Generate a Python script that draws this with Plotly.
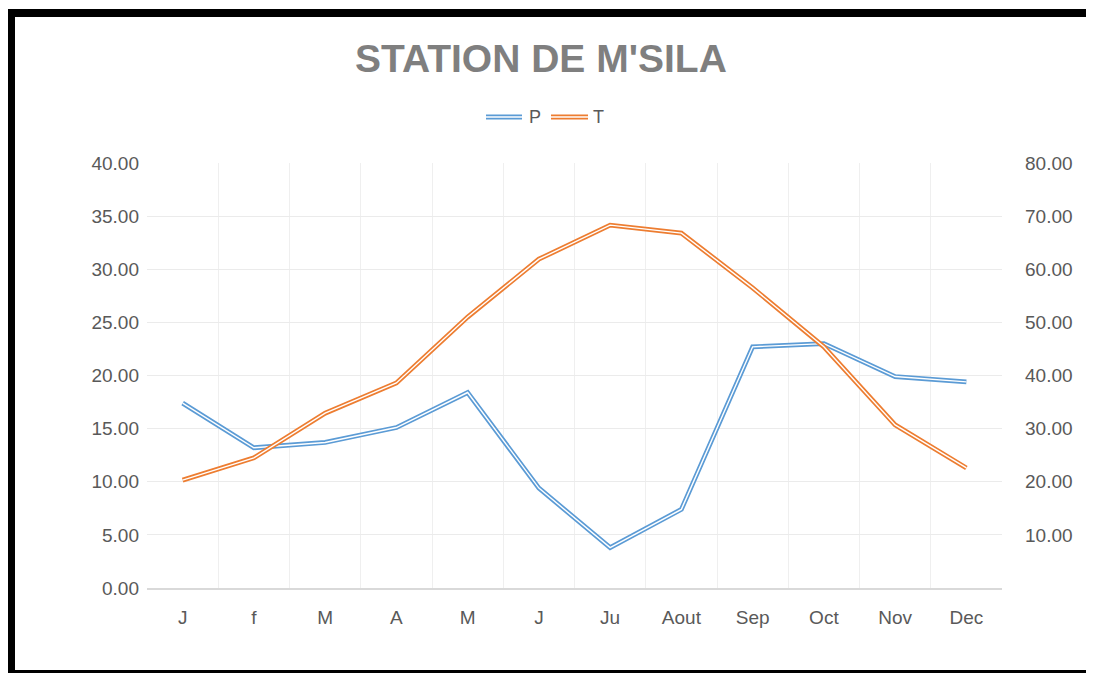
import plotly.graph_objects as go

months = ["J", "f", "M", "A", "M", "J", "Ju", "Aout", "Sep", "Oct", "Nov", "Dec"]
P = [17.4, 13.2, 13.7, 15.1, 18.4, 9.4, 3.8, 7.4, 22.7, 23.0, 19.9, 19.4]
T = [20.3, 24.5, 32.9, 38.6, 51.0, 61.9, 68.3, 66.8, 56.5, 45.4, 30.7, 22.6]
title_text = "STATION DE M'SILA"
series_names = ["P", "T"]
left_ticks = [0, 5, 10, 15, 20, 25, 30, 35, 40]
right_ticks = [10, 20, 30, 40, 50, 60, 70, 80]

OFF = 8  # page body margin
W, H = 1094 - OFF, 673 - OFF
# plot area in page pixels
L, R, TOP, B = 147, 1002, 163, 588
BLUE = "#5b9bd5"
ORANGE = "#ed7d31"
FONT = "Liberation Sans Narrow, Arial Narrow, Liberation Sans, sans-serif"
TXT = "#595959"

def px(x):
    return (x - L) / (R - L)

def py(y):
    return (B - y) / (B - TOP)

x = list(range(len(months)))
fig = go.Figure()
for vals, col, ax in [(P, BLUE, "y"), (T, ORANGE, "y2")]:
    fig.add_trace(go.Scatter(x=x, y=vals, mode="lines", yaxis=ax, showlegend=False,
                             line=dict(color=col, width=4.8), hoverinfo="skip"))
    fig.add_trace(go.Scatter(x=x, y=vals, mode="lines", yaxis=ax, showlegend=False,
                             line=dict(color="white", width=1.4), hoverinfo="skip"))

shapes = []
# black frame (page pixel coords)
for (x0, y0, x1, y1) in [(8, 9, 15, 680), (8, 9, 1100, 17), (8, 670, 1100, 680)]:
    shapes.append(dict(type="rect", xref="paper", yref="paper",
                       x0=px(x0), x1=px(x1), y0=py(y1), y1=py(y0),
                       fillcolor="black", line=dict(width=0), layer="above"))
# legend double lines
for (x0, x1, col) in [(486, 522, BLUE), (551, 588, ORANGE)]:
    shapes.append(dict(type="line", xref="paper", yref="paper", x0=px(x0), x1=px(x1),
                       y0=py(117), y1=py(117), line=dict(color=col, width=4.8)))
    shapes.append(dict(type="line", xref="paper", yref="paper", x0=px(x0), x1=px(x1),
                       y0=py(117), y1=py(117), line=dict(color="white", width=1.4)))

annotations = [
    dict(text=series_names[0], xref="paper", yref="paper", x=px(527), y=py(117),
         xanchor="left", yanchor="middle", showarrow=False,
         font=dict(family=FONT, size=18, color=TXT)),
    dict(text=series_names[1], xref="paper", yref="paper", x=px(591), y=py(117),
         xanchor="left", yanchor="middle", showarrow=False,
         font=dict(family=FONT, size=18, color=TXT)),
    dict(text="<b>" + title_text + "</b>", xref="paper", yref="paper", x=px(541), y=py(58),
         xanchor="center", yanchor="middle", showarrow=False,
         font=dict(family=FONT, size=39, color="#7f7f7f")),
]

fig.update_layout(
    width=W, height=H,
    margin=dict(l=L - OFF, r=W - (R - OFF), t=TOP - OFF, b=H - (B - OFF), pad=0),
    paper_bgcolor="white", plot_bgcolor="white",
    showlegend=False,
    shapes=shapes, annotations=annotations,
    xaxis=dict(range=[-0.5, 11.5], tickvals=x, ticktext=months, showgrid=False,
               zeroline=False, showline=True, linecolor="#d9d9d9", linewidth=1.5,
               ticks="", ticklabelstandoff=11,
               tickfont=dict(family=FONT, size=19, color=TXT),
               minor=dict(tick0=-0.5, dtick=1, showgrid=True, gridcolor="#efefef", gridwidth=1)),
    yaxis=dict(range=[0, 40], tickvals=left_ticks, tickformat=".2f", showgrid=True,
               gridcolor="#ebebeb", zeroline=False, showline=False, ticks="",
               ticklabelstandoff=7, tickfont=dict(family=FONT, size=19, color=TXT)),
    yaxis2=dict(range=[0, 80], tickvals=right_ticks, tickformat=".2f", overlaying="y",
                side="right", showgrid=False, zeroline=False, showline=False, ticks="",
                ticklabelstandoff=22, tickfont=dict(family=FONT, size=19, color=TXT)),
)

fig.write_html("out.html")
